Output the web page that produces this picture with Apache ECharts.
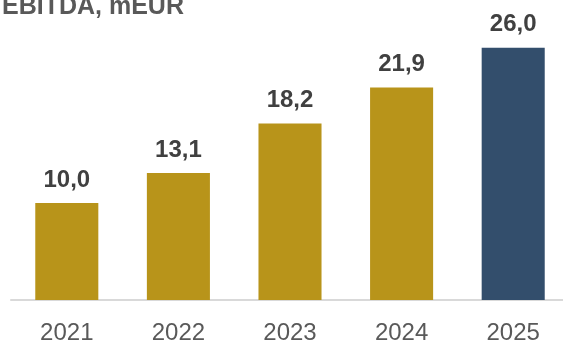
<!DOCTYPE html>
<html>
<head>
<meta charset="utf-8">
<script src="https://cdn.jsdelivr.net/npm/echarts@6/dist/echarts.min.js"></script>
<style>
  html, body { margin: 0; padding: 0; background: #fff; }
  #chart { width: 563px; height: 345px; }
</style>
</head>
<body>
<div id="chart"></div>
<script>
const years = ['2021', '2022', '2023', '2024', '2025'];
const ebitda = [10.0, 13.1, 18.2, 21.9, 26.0];
const barColors = ['#B8941A', '#B8941A', '#B8941A', '#B8941A', '#334E6C'];

const chart = echarts.init(document.getElementById('chart'));
chart.setOption({
  animation: false,
  backgroundColor: '#ffffff',
  title: {
    text: 'EBITDA, mEUR',
    left: -3,
    top: -10,
    textStyle: { fontFamily: 'Liberation Sans', fontSize: 25, fontWeight: 'bold', color: '#595959' }
  },
  // plot area runs a few pixels past the right edge
  grid: { left: 11, width: 558, top: 9, bottom: 45, containLabel: false, outerBoundsMode: 'none' },
  xAxis: {
    type: 'category',
    data: years,
    axisLine: { lineStyle: { color: '#D9D9D9', width: 2 } },
    axisTick: { show: false },
    axisLabel: { margin: 21, fontFamily: 'Liberation Sans', fontSize: 24, color: '#595959' }
  },
  yAxis: {
    type: 'value', min: 0, max: 30,
    show: false,
    splitLine: { show: false }
  },
  series: [{
    type: 'bar',
    barWidth: '56.5%',
    data: ebitda.map((v, i) => ({ value: v, itemStyle: { color: barColors[i] } })),
    label: {
      show: true,
      position: 'top',
      distance: 11,
      fontFamily: 'Liberation Sans',
      fontSize: 24,
      fontWeight: 'bold',
      color: '#404040',
      formatter: p => p.value.toFixed(1).replace('.', ',')
    }
  }]
});
</script>
</body>
</html>
